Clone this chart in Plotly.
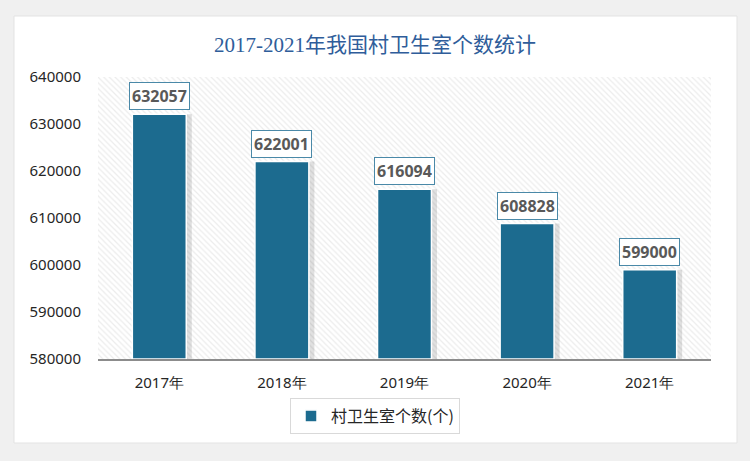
import plotly.graph_objects as go

years = ["2017年", "2018年", "2019年", "2020年", "2021年"]
values = [632057, 622001, 616094, 608828, 599000]
series_name = "村卫生室个数(个)"
title_text = "2017-2021年我国村卫生室个数统计"
y_min, y_max, y_step = 580000, 640000, 10000

W, H = 750, 461
ml, mr, mt, mb = 98, 39, 77, 102
xs = list(range(len(years)))
x_center = (xs[0] + xs[-1]) / 2

fig = go.Figure()

# hatched plot background (a single full-width bar)
fig.add_trace(go.Bar(
    x=[x_center], y=[y_max - y_min], base=y_min, width=len(xs),
    marker=dict(color="white", line=dict(width=0),
                pattern=dict(shape="\\", fgcolor="#d9d9d9", bgcolor="white", size=4, solidity=0.3)),
    hoverinfo="skip", showlegend=False,
))

# shadow bars
fig.add_trace(go.Bar(
    x=[x + 0.035 for x in xs], y=[v - y_min for v in values], base=y_min,
    width=0.46, marker=dict(color="rgba(0,0,0,0.12)", line=dict(width=0)),
    hoverinfo="skip", showlegend=False,
))

fig.add_trace(go.Bar(
    x=xs, y=[v - y_min for v in values], base=y_min, name=series_name,
    width=0.44, marker=dict(color="#1c6b8f", line=dict(color="white", width=1.5)),
))

for x, v in zip(xs, values):
    fig.add_annotation(
        x=x, y=v, xref="x", yref="y", text=f"<b>{v}</b>", showarrow=False,
        yanchor="bottom", yshift=4,
        font=dict(family="Noto Sans, Open Sans, sans-serif", size=16, color="#595959"),
        bgcolor="white", bordercolor="#4a89a8", borderwidth=1, borderpad=2,
    )

# white card
fig.add_shape(type="rect", xref="paper", yref="paper",
              x0=(14 - ml) / (W - ml - mr), x1=(737 - ml) / (W - ml - mr),
              y0=((H - 443) - mb) / (H - mt - mb),
              y1=((H - 16) - mb) / (H - mt - mb),
              fillcolor="white", line=dict(color="#e3e3e3", width=1), layer="below")

fig.update_layout(
    width=W, height=H,
    margin=dict(l=ml, r=mr, t=mt, b=mb, autoexpand=False),
    paper_bgcolor="#f0f0f0", plot_bgcolor="rgba(0,0,0,0)",
    barmode="overlay",
    title=dict(text=title_text, x=0.5, xref="container", xanchor="center", y=(H - 45) / H, yanchor="middle",
               font=dict(family="Liberation Serif, Noto Sans CJK SC, serif", size=21, color="#2f5d9a")),
    xaxis=dict(range=[xs[0] - 0.5, xs[-1] + 0.5], tickvals=xs, ticktext=years, automargin=False,
               showgrid=False, zeroline=False, showline=True, linecolor="#8c8c8c", linewidth=2,
               ticks="", ticklabelstandoff=9,
               tickfont=dict(family="Noto Sans, sans-serif", size=15, color="#262626")),
    yaxis=dict(range=[y_min, y_max], dtick=y_step, tickformat="d", showgrid=False, zeroline=False,
               showline=False, ticks="", ticklabelstandoff=16, automargin=False,
               tickfont=dict(family="Noto Sans, sans-serif", size=15, color="#262626")),
    legend=dict(orientation="h", x=0.5, xanchor="center", xref="container",
                y=(H - 416) / H, yref="container", yanchor="middle",
                bordercolor="#d9d9d9", borderwidth=1, bgcolor="white",
                font=dict(family="Noto Sans CJK SC, sans-serif", size=16, color="#262626")),
    showlegend=True,
)

fig.write_html("out.html")
